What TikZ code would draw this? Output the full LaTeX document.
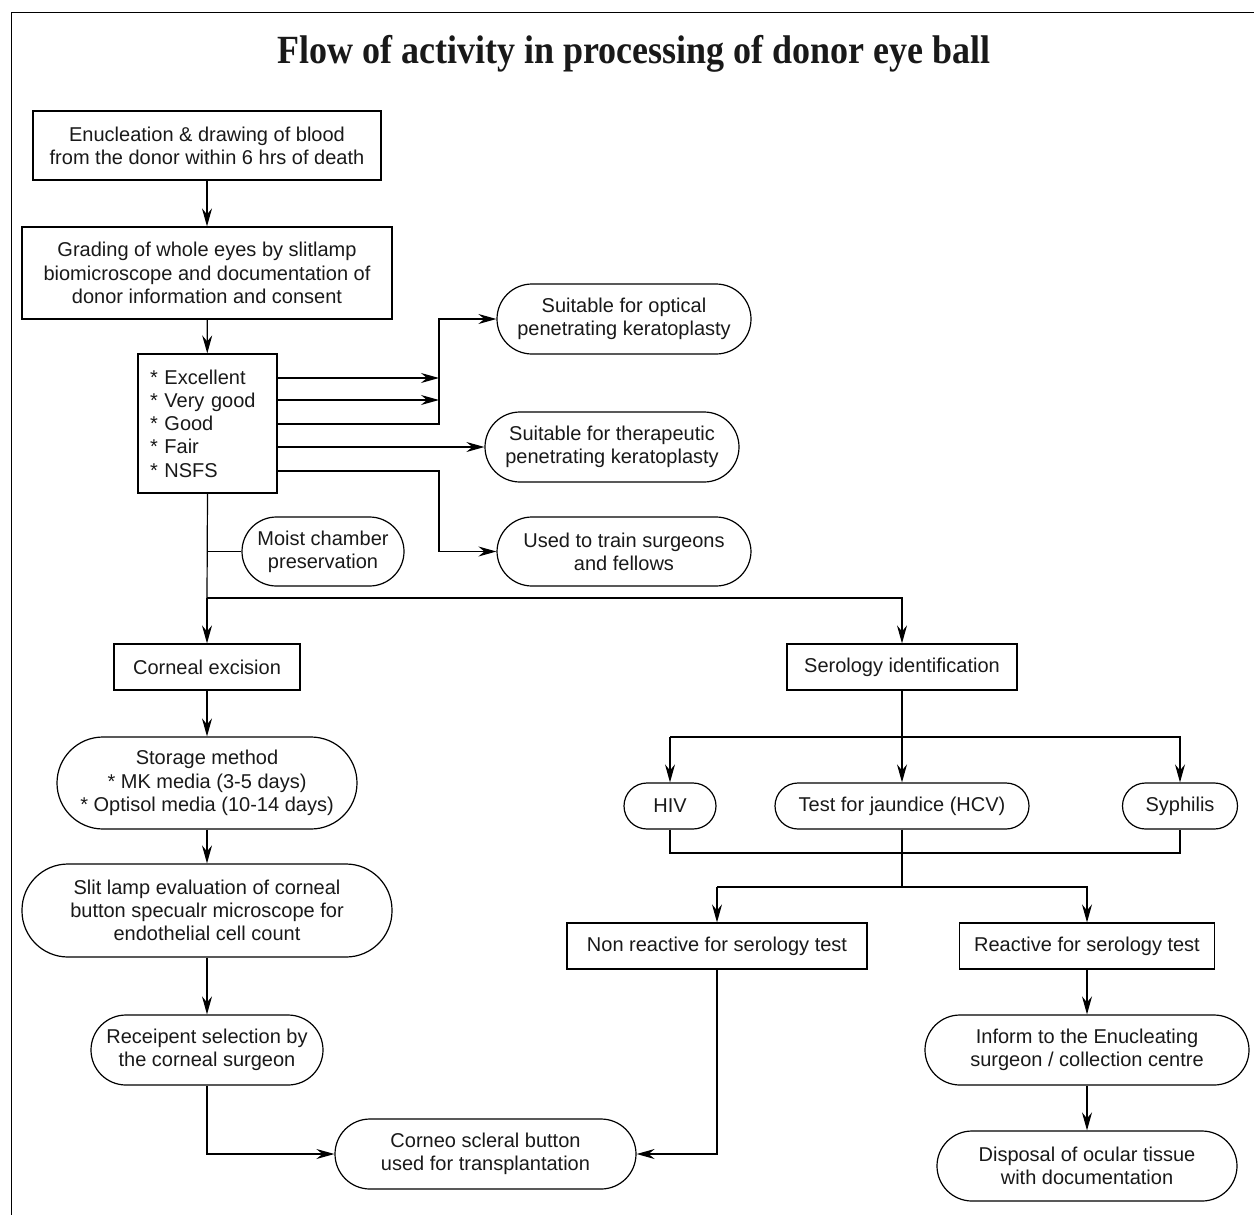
\documentclass[tikz,border=0pt]{standalone}
\usepackage{fontspec}
\setmainfont{Liberation Sans}
\newfontfamily\titlefont{Liberation Serif}
\usetikzlibrary{arrows.meta}
\begin{document}
\begin{tikzpicture}[x=1bp,y=-1bp,
  every node/.style={font=\fontsize{20bp}{23.3bp}\selectfont, inner sep=0pt, align=center, text=black!90},
  sq/.style={draw, line width=1.2bp},
  rr/.style={draw, line width=1.2bp, rounded corners=35bp},
  rs/.style={draw, line width=1.2bp, rounded corners=23bp},
  rb/.style={draw, line width=1.2bp, rounded corners=46bp},
  conn/.style={line width=1.2bp},
  arr/.style={conn, -{Stealth[length=18bp,width=10bp,inset=6bp]}},
]
\useasboundingbox (0,0) rectangle (1254,1215);
\draw[line width=1.6bp] (11.5,1215) -- (11.5,12.5) -- (1254,12.5);

\node[anchor=base] (title) at (634,63) {\scalebox{0.9}[1]{\fontsize{40bp}{48bp}\titlefont\bfseries Flow of activity in processing of donor eye ball}};

% left column
\node[sq, minimum width=348bp, minimum height=69bp] (enuc) at (207,145.5) {Enucleation \& drawing of blood\\from the donor within 6 hrs of death};
\node[sq, minimum width=370bp, minimum height=92bp] (grad) at (207,273) {Grading of whole eyes by slitlamp\\biomicroscope and documentation of\\donor information and consent};
\node[sq, minimum width=139bp, minimum height=139bp, align=left, text width=115bp] (grades) at (207.5,423.5) {{*} Excellent\\{*} Very good\\{*} Good\\{*} Fair\\{*} NSFS};

\node[rr, minimum width=254bp, minimum height=70bp] (optical) at (624,319) {Suitable for optical\\penetrating keratoplasty};
\node[rr, minimum width=254bp, minimum height=70bp] (thera) at (612,447) {Suitable for therapeutic\\penetrating keratoplasty};
\node[rr, minimum width=254bp, minimum height=69bp] (train) at (624,551.5) {Used to train surgeons\\and fellows};
\node[rr, minimum width=162bp, minimum height=69bp, rounded corners=34.5bp] (moist) at (323,551.5) {Moist chamber\\preservation};

\node[sq, minimum width=186bp, minimum height=46bp] (corneal) at (207,667) {Corneal excision};
\node[rb, minimum width=300bp, minimum height=92bp] (storage) at (207,783) {Storage method\\{*} MK media (3-5 days)\\{*} Optisol media (10-14 days)};
\node[rb, minimum width=370bp, minimum height=93bp] (slit) at (207,910.5) {Slit lamp evaluation of corneal\\button specualr microscope for\\endothelial cell count};
\node[rr, minimum width=232bp, minimum height=70bp] (recip) at (207,1050) {Receipent selection by\\the corneal surgeon};
\node[rr, minimum width=301bp, minimum height=70bp] (corneo) at (485.5,1154) {Corneo scleral button\\used for transplantation};

% right column
\node[sq, minimum width=230bp, minimum height=46bp] (sero) at (902,667) {Serology identification};
\node[rs, minimum width=92bp, minimum height=46bp] (hiv) at (670,806) {HIV};
\node[rs, minimum width=254bp, minimum height=46bp] (hcv) at (902,806) {Test for jaundice (HCV)};
\node[rs, minimum width=115bp, minimum height=46bp] (syph) at (1180,806) {Syphilis};
\node[sq, minimum width=300bp, minimum height=46bp] (nonreact) at (717,946) {Non reactive for serology test};
\node[sq, minimum width=255bp, minimum height=46bp] (react) at (1087,946) {Reactive for serology test};
\node[rr, minimum width=324bp, minimum height=70bp] (inform) at (1087,1050) {Inform to the Enucleating\\surgeon / collection centre};
\node[rr, minimum width=300bp, minimum height=70bp] (dispose) at (1087,1166) {Disposal of ocular tissue\\with documentation};

% junction coordinates
\coordinate (jx) at (439,0);
\coordinate (split) at (207,598);
\coordinate (serosplit) at (902,737);
\coordinate (join) at (902,853);
\coordinate (resplit) at (902,887);

% connectors
\draw[arr] (enuc) -- (grad);
\draw[arr] (grad) -- (grades);
\draw[arr] (grades.east |- 0,378) -- (jx |- 0,378);
\draw[arr] (grades.east |- 0,400) -- (jx |- 0,400);
\draw[arr] (grades.east |- 0,424) -- (jx |- 0,424) -- (jx |- optical.west) -- (optical.west);
\draw[arr] (grades.east |- thera.west) -- (thera.west);
\draw[arr] (grades.east |- 0,471) -- (jx |- 0,471) -- (jx |- train.west) -- (train.west);
\draw[conn] (grades.south) -- (split);
\draw[conn] (split |- moist.west) -- (moist.west);
\draw[arr] (split) -- (corneal.north);
\draw[arr] (split) -- (split -| sero.north) -- (sero.north);

\draw[arr] (corneal) -- (storage);
\draw[arr] (storage) -- (slit);
\draw[arr] (slit) -- (recip);
\draw[arr] (recip.south) |- (corneo.west);

\draw[arr] (sero.south) -- (hcv.north);
\draw[arr] (serosplit -| hiv.north) -- (serosplit -| syph.north) -- (syph.north);
\draw[arr] (serosplit -| hiv.north) -- (hiv.north);
\draw[conn] (hiv.south) -- (join -| hiv.south) -- (join -| syph.south) -- (syph.south);
\draw[conn] (hcv.south) -- (resplit);
\draw[arr] (resplit -| nonreact.north) -- (resplit -| react.north) -- (react.north);
\draw[arr] (resplit -| nonreact.north) -- (nonreact.north);
\draw[arr] (nonreact.south) |- (corneo.east);
\draw[arr] (react) -- (inform);
\draw[arr] (inform) -- (dispose);
\end{tikzpicture}
\end{document}
